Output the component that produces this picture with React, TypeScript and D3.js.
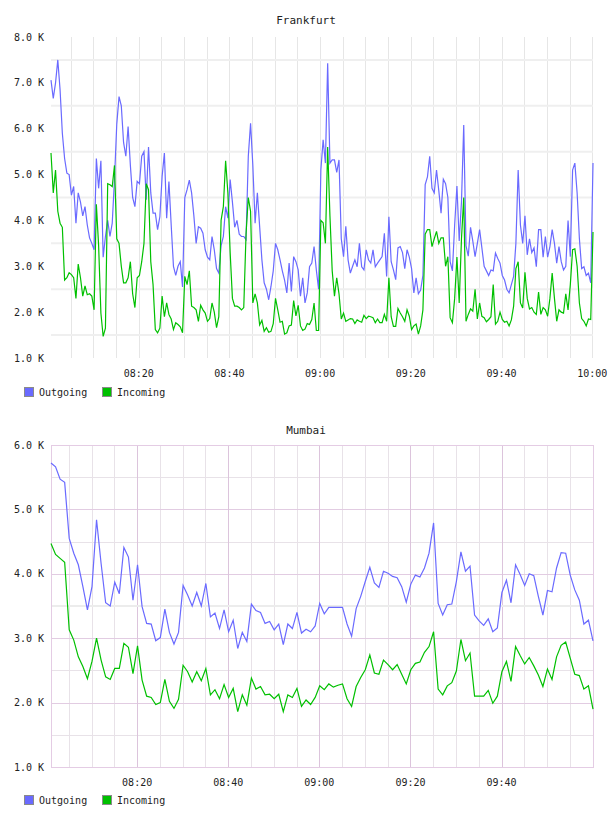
import React from "react";
import * as d3 from "d3";

// Frankfurt: 30-second samples, values in thousands
const frankfurtStart = "08:00:40";
const frankfurtStepSec = 30;
const frankfurtOutgoing = [
  7.06, 6.66, 7.0, 7.5, 6.85, 5.9, 5.35, 5.03, 5.0, 4.55,
  4.74, 3.94, 4.6, 4.4, 4.1, 4.3, 3.9, 3.62, 3.5, 3.36,
  5.35, 4.7, 5.3, 3.2, 3.65, 4.0, 3.65, 3.94, 4.9, 6.1,
  6.7, 6.5, 5.7, 5.4, 6.05, 5.2, 4.5, 4.3, 4.85, 4.8,
  5.4, 5.5, 4.45, 5.6, 4.6, 4.16, 4.16, 3.8, 4.08, 4.96,
  5.47, 4.05, 4.85, 3.9, 3.0, 2.8, 3.0, 3.1, 2.55, 4.5,
  4.67, 4.88, 4.6, 4.1, 3.5, 3.86, 3.83, 3.72, 3.36, 3.2,
  3.14, 3.65, 3.36, 2.95, 2.85, 3.45, 3.65, 4.3, 4.05, 4.89,
  4.4, 3.85, 4.0, 3.7, 3.65, 3.65, 3.58, 5.4, 6.12, 5.2,
  3.94, 4.6, 3.87, 3.14, 2.64, 2.5, 2.27, 2.56, 2.9, 3.5,
  3.36, 3.14, 2.9, 2.7, 2.42, 3.07, 2.45, 3.21, 3.1, 2.92,
  2.35, 2.75, 2.2, 2.42, 2.99, 3.07, 3.43, 2.92, 2.5, 5.1,
  5.76, 5.25, 7.43, 5.25, 5.32, 5.32, 5.05, 5.32, 3.6, 3.21,
  3.87, 3.14, 2.85, 3.0, 3.14, 2.99, 3.5, 2.99, 2.92, 3.36,
  3.14, 3.07, 3.36, 2.99, 3.07, 3.14, 3.21, 3.72, 2.78, 4.08,
  3.1, 2.92, 2.71, 3.4, 3.43, 3.3, 2.95, 3.36, 3.2, 2.95,
  2.42, 2.75, 2.4, 2.48, 2.8, 4.78, 4.95, 5.4, 4.7, 4.6,
  5.1, 4.65, 4.16, 4.9, 4.8, 4.5, 3.1, 2.9, 3.9, 4.75,
  3.55, 4.4, 6.08, 3.45, 3.22, 3.85, 3.55, 3.21, 3.5, 3.8,
  3.4, 3.0, 2.9, 2.8, 2.92, 2.9, 3.29, 3.17, 3.07, 2.8,
  2.7, 2.5, 2.42, 2.6, 2.78, 3.5, 5.1, 3.9, 3.5, 4.1,
  3.25, 3.6, 3.3, 3.4, 2.99, 3.8, 3.8, 3.2, 3.65, 3.2,
  3.43, 3.8, 3.5, 3.07, 3.43, 3.1, 2.92, 3.0, 4.0, 3.21,
  5.1, 5.25, 4.6, 3.6, 2.95, 2.99, 2.8, 2.85, 2.64, 5.25,
];
const frankfurtIncoming = [
  5.47, 4.6, 5.1, 4.2, 3.94, 3.85, 2.7, 2.75, 2.86, 2.82,
  2.75, 2.3, 3.05, 2.75, 2.35, 2.57, 2.38, 2.4, 2.35, 2.05,
  4.35, 3.45, 1.98, 1.47, 1.65, 4.8, 4.78, 4.74, 5.2, 3.6,
  3.5, 3.0, 2.64, 2.64, 2.75, 3.1, 2.4, 2.1, 2.75, 2.8,
  3.1, 3.5, 4.8, 4.67, 3.1, 2.6, 1.62, 1.55, 1.65, 2.35,
  1.9, 2.2, 1.95, 1.85, 1.62, 1.77, 1.73, 1.68, 1.55, 2.78,
  2.6, 2.9, 2.13, 2.1, 2.05, 1.8, 2.15, 2.05, 1.98, 1.8,
  1.86, 2.2, 2.0, 1.66, 1.9, 4.0, 4.3, 5.3, 4.6, 3.3,
  2.3, 2.13, 2.13, 2.1, 2.05, 2.1, 3.7, 4.5, 4.2, 2.2,
  2.4, 2.2, 1.72, 1.82, 1.58, 1.66, 1.56, 1.58, 1.75, 2.3,
  2.05, 1.78, 1.8, 1.52, 1.55, 1.7, 1.72, 2.25, 1.92, 2.15,
  1.7, 1.6, 1.63, 1.75, 1.73, 1.84, 2.2, 1.6, 1.6, 4.0,
  3.95, 3.5, 5.6, 4.1, 2.9, 2.35, 2.75, 2.4, 1.85, 1.98,
  1.8, 1.83, 1.86, 1.85, 1.75, 1.83, 1.8, 1.78, 1.93, 1.86,
  1.91, 1.9, 1.88, 1.77, 1.85, 1.77, 1.77, 1.95, 1.8, 2.75,
  1.9, 1.69, 1.69, 2.08, 1.98, 1.9, 1.8, 2.05, 1.91, 1.62,
  1.7, 1.74, 1.52, 1.7, 2.05, 3.7, 3.8, 3.8, 3.43, 3.6,
  3.76, 3.5, 3.62, 3.62, 3.0, 3.21, 1.88, 1.77, 2.3, 3.2,
  2.2, 3.6, 4.5, 1.8, 1.95, 2.07, 2.02, 2.5, 1.85, 2.2,
  1.91, 1.88, 1.79, 1.84, 1.9, 2.6, 1.74, 1.8, 2.0, 1.84,
  1.78, 1.8, 1.7, 1.83, 2.13, 2.95, 3.1, 2.2, 2.09, 2.87,
  2.3, 2.07, 2.1, 2.0, 1.95, 2.44, 1.95, 2.1, 2.05, 1.91,
  2.3, 2.85, 2.3, 1.8, 2.05, 2.0, 1.98, 2.4, 2.05, 2.6,
  3.36, 3.38, 3.0, 2.2, 1.86, 1.8, 1.7, 1.85, 1.84, 3.75,
];

// Mumbai: one-minute samples, values in thousands
const mumbaiStart = "08:01:05";
const mumbaiStepSec = 60;
const mumbaiOutgoing = [
  5.72, 5.66, 5.47, 5.42, 4.55, 4.32, 4.14, 3.8, 3.44, 3.8,
  4.84, 4.16, 3.55, 3.5, 3.87, 3.69, 4.41, 4.26, 3.59, 4.14,
  3.49, 3.23, 3.22, 2.96, 3.01, 3.45, 3.09, 2.91, 3.09, 3.82,
  3.67, 3.5, 3.71, 3.5, 3.85, 3.33, 3.39, 3.15, 3.44, 3.1,
  3.28, 2.84, 3.09, 2.95, 3.53, 3.43, 3.4, 3.23, 3.26, 3.13,
  3.22, 2.9, 3.22, 3.15, 3.4, 3.08, 3.14, 3.1, 3.19, 3.54,
  3.38, 3.48, 3.48, 3.48, 3.48, 3.22, 3.03, 3.46, 3.65, 3.88,
  4.1, 3.86, 3.79, 4.04, 4.01, 3.96, 3.94, 3.8, 3.56, 3.84,
  3.98, 3.95, 4.09, 4.32, 4.79, 3.54, 3.36, 3.52, 3.53, 3.88,
  4.34, 4.04, 4.12, 3.36, 3.27, 3.2, 3.3, 3.1, 3.16, 3.71,
  3.9, 3.55, 4.14, 3.99, 3.82, 4.0, 3.97, 3.65, 3.36, 3.74,
  3.72, 4.09, 4.33, 4.32, 3.98, 3.75, 3.59, 3.22, 3.28, 2.96,
];
const mumbaiIncoming = [
  4.47, 4.3, 4.24, 4.18, 3.13, 2.97, 2.71, 2.56, 2.37, 2.64,
  3.0, 2.66, 2.4, 2.36, 2.53, 2.53, 2.92, 2.86, 2.45, 2.88,
  2.35, 2.1, 2.08, 1.97, 2.0, 2.36, 2.02, 1.91, 2.05, 2.58,
  2.48, 2.32, 2.48, 2.34, 2.53, 2.12, 2.2, 2.06, 2.28, 2.08,
  2.22, 1.86, 2.12, 1.96, 2.38, 2.21, 2.25, 2.12, 2.13, 2.06,
  2.13, 1.86, 2.12, 2.08, 2.22, 1.94, 2.04, 1.97, 2.08, 2.26,
  2.2, 2.29, 2.24, 2.27, 2.29, 2.06, 1.94, 2.25, 2.39, 2.51,
  2.74, 2.46, 2.44, 2.66, 2.59, 2.51, 2.59, 2.44, 2.29, 2.51,
  2.61, 2.63, 2.78, 2.87, 3.1, 2.21, 2.12, 2.26, 2.31, 2.49,
  2.98, 2.65, 2.77, 2.1, 2.1, 2.1, 2.19, 1.99, 2.1, 2.48,
  2.64, 2.33, 2.87, 2.73, 2.6, 2.7, 2.57, 2.43, 2.25, 2.52,
  2.36, 2.71, 2.89, 2.94, 2.69, 2.44, 2.42, 2.21, 2.26, 1.9,
];

const frankfurtTimeTicks = ["08:20", "08:40", "09:00", "09:20", "09:40", "10:00"];
const mumbaiTimeTicks = ["08:20", "08:40", "09:00", "09:20", "09:40"];
const frankfurtValueTicks = [1, 2, 3, 4, 5, 6, 7, 8];
const mumbaiValueTicks = [1, 2, 3, 4, 5, 6];
const seriesNames = ["Outgoing", "Incoming"];
const seriesColors = ["#6a6aff", "#00c000"];

const FONT = "'DejaVu Sans Mono', monospace";
const parseClock = d3.timeParse("%H:%M:%S");
const parseHM = d3.timeParse("%H:%M");
const fmtValue = (v: number) => `${v.toFixed(1)} K`;

function toSeries(start: string, stepSec: number, values: number[]) {
  const t0 = parseClock(start)!;
  return values.map((v, i) => ({ t: d3.timeSecond.offset(t0, i * stepSec), v }));
}

type Pt = { t: Date; v: number };

function Legend({ y }: { y: number }) {
  const xs = [24, 102];
  return (
    <g>
      {seriesNames.map((name, i) => (
        <g key={name}>
          <rect x={xs[i] + 0.5} y={y - 4.5} width={9} height={9} fill={seriesColors[i]} stroke="#8a8a8a" />
          <text x={xs[i] + 15} y={y} dominantBaseline="central" fontFamily={FONT} fontSize={10} fill="#222">
            {name}
          </text>
        </g>
      ))}
    </g>
  );
}

function Frankfurt() {
  const top = 37, bottom = 358, left = 51, right = 593;
  const out = toSeries(frankfurtStart, frankfurtStepSec, frankfurtOutgoing);
  const inc = toSeries(frankfurtStart, frankfurtStepSec, frankfurtIncoming);
  const x = d3.scaleTime().domain([out[0].t, out[out.length - 1].t]).range([left, right]);
  const y = d3.scaleLinear().domain([1, 8]).range([bottom, top]);
  const line = d3.line<Pt>().x((d) => x(d.t)).y((d) => y(d.v));
  const minorTimes = d3.timeMinute.every(5)!.range(x.domain()[0], d3.timeSecond.offset(x.domain()[1], 1));
  const halfSteps = d3.range(1.5, 8, 1);
  return (
    <g>
      <text x={306} y={20} textAnchor="middle" dominantBaseline="central" fontFamily={FONT} fontSize={11} fill="#222">
        Frankfurt
      </text>
      {minorTimes.map((t) => (
        <line key={+t} x1={Math.round(x(t)) + 0.5} x2={Math.round(x(t)) + 0.5} y1={top} y2={bottom} stroke="#e6e6e6" />
      ))}
      {halfSteps.map((v) => (
        <line key={v} x1={left} x2={right} y1={y(v)} y2={y(v)} stroke="#efefef" strokeWidth={2} />
      ))}
      {frankfurtValueTicks.map((v) => (
        <text key={v} x={44} y={y(v)} textAnchor="end" dominantBaseline="central" fontFamily={FONT} fontSize={10} fill="#222">
          {fmtValue(v)}
        </text>
      ))}
      {frankfurtTimeTicks.map((s) => (
        <text key={s} x={x(parseHM(s)!)} y={373} textAnchor="middle" dominantBaseline="central" fontFamily={FONT} fontSize={10} fill="#222">
          {s}
        </text>
      ))}
      <path d={line(out)!} fill="none" stroke={seriesColors[0]} strokeWidth={1.2} />
      <path d={line(inc)!} fill="none" stroke={seriesColors[1]} strokeWidth={1.2} />
      <Legend y={392} />
    </g>
  );
}

function Mumbai() {
  const top = 445, bottom = 767, left = 51, right = 593;
  const out = toSeries(mumbaiStart, mumbaiStepSec, mumbaiOutgoing);
  const inc = toSeries(mumbaiStart, mumbaiStepSec, mumbaiIncoming);
  const x = d3.scaleTime().domain([out[0].t, out[out.length - 1].t]).range([left, right]);
  const y = d3.scaleLinear().domain([1, 6]).range([bottom, top]);
  const line = d3.line<Pt>().x((d) => x(d.t)).y((d) => y(d.v));
  const minorTimes = d3.timeMinute.every(5)!.range(x.domain()[0], x.domain()[1]);
  const majorSet = new Set(mumbaiTimeTicks);
  const fmtHM = d3.timeFormat("%H:%M");
  const halfSteps = d3.range(1.5, 6, 1);
  const px = (v: number) => Math.round(v) + 0.5;
  return (
    <g>
      <text x={306} y={430} textAnchor="middle" dominantBaseline="central" fontFamily={FONT} fontSize={11} fill="#222">
        Mumbai
      </text>
      {halfSteps.map((v) => (
        <line key={v} x1={left} x2={right} y1={px(y(v))} y2={px(y(v))} stroke="#e8e2e8" />
      ))}
      {minorTimes.filter((t) => !majorSet.has(fmtHM(t))).map((t) => (
        <line key={+t} x1={px(x(t))} x2={px(x(t))} y1={top} y2={bottom} stroke="#e8e2e8" />
      ))}
      {mumbaiValueTicks.map((v) => (
        <line key={v} x1={left} x2={right} y1={px(y(v))} y2={px(y(v))} stroke="#e2cce2" />
      ))}
      {minorTimes.filter((t) => majorSet.has(fmtHM(t))).map((t) => (
        <line key={+t} x1={px(x(t))} x2={px(x(t))} y1={top} y2={bottom} stroke="#dcc4dc" />
      ))}
      <line x1={left} x2={right} y1={y(3.5)} y2={y(3.5)} stroke="#ececec" strokeWidth={2} />
      <rect x={left + 0.5} y={top + 0.5} width={right - left} height={bottom - top} fill="none" stroke="#e4cce4" />
      {mumbaiValueTicks.map((v) => (
        <text key={v} x={44} y={y(v)} textAnchor="end" dominantBaseline="central" fontFamily={FONT} fontSize={10} fill="#222">
          {fmtValue(v)}
        </text>
      ))}
      {mumbaiTimeTicks.map((s) => (
        <text key={s} x={x(parseHM(s)!)} y={782} textAnchor="middle" dominantBaseline="central" fontFamily={FONT} fontSize={10} fill="#222">
          {s}
        </text>
      ))}
      <path d={line(out)!} fill="none" stroke={seriesColors[0]} strokeWidth={1.2} />
      <path d={line(inc)!} fill="none" stroke={seriesColors[1]} strokeWidth={1.2} />
      <Legend y={800} />
    </g>
  );
}

export default function App() {
  return (
    <svg
      width={608}
      height={816}
      style={{ position: "absolute", left: 0, top: 0, background: "#fff" }}
    >
      <rect width={608} height={816} fill="#fff" />
      <Frankfurt />
      <Mumbai />
    </svg>
  );
}
